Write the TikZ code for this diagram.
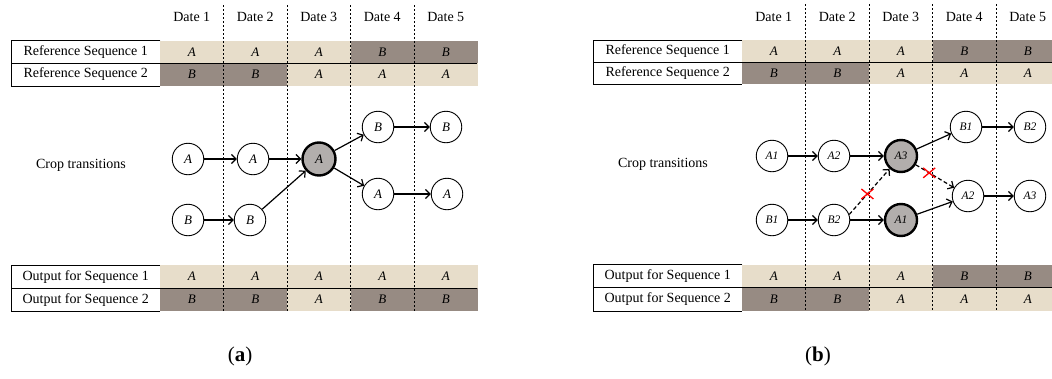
\documentclass[tikz,border=0pt]{standalone}
\usepackage{fontspec}
\setmainfont{Liberation Serif}
\usetikzlibrary{arrows.meta}
\definecolor{lightcell}{HTML}{E7DDCA}
\definecolor{darkcell}{HTML}{978B83}
\definecolor{nodegray}{HTML}{B2AEAC}
\newcommand\seqrow[5]{% #1 prefix, #2 y, #3 label, #4 letters, #5 height
  \node[lbl, minimum height=#5] (#1l) at (11,#2) {#3};
  \draw[line width=0.8pt] (#1l.north east) -- (#1l.north west) -- (#1l.south west) -- (#1l.south east);
  \foreach \l [count=\i] in {#4}
    \node[cell\l, minimum height=#5] (#1c\i) at ({160+63.5*(\i-1)},#2) {\l};
}
\begin{document}
\begin{tikzpicture}[x=1pt,y=-1pt,
  lbl/.style={fill=white, minimum width=149pt, inner sep=0pt, anchor=north west, font=\fontsize{14}{16}\selectfont},
  cellbase/.style={inner sep=0pt, minimum width=63.5pt, anchor=north west, font=\fontsize{13}{15}\selectfont\itshape},
  cellA/.style={cellbase, fill=lightcell},
  cellB/.style={cellbase, fill=darkcell},
  hdr/.style={font=\fontsize{14}{16}\selectfont},
  vsep/.style={dash pattern=on 2pt off 2pt, line width=0.6pt},
  st/.style={circle, draw=black, line width=0.9pt, fill=white, minimum size=31.5pt, inner sep=0pt, font=\fontsize{13}{15}\selectfont\itshape},
  stb/.style={st, font=\fontsize{11.5}{13}\selectfont\itshape},
  gst/.style={st, fill=nodegray, line width=2.4pt, minimum size=33pt},
  gstb/.style={stb, fill=nodegray, line width=2.4pt, minimum size=32pt},
  tr/.style={line width=1.2pt, -{Straight Barb[length=4.5pt,width=9pt]}},
  trd/.style={tr, dash pattern=on 4pt off 2.5pt},
  xmark/.style={red, line width=1.3pt},
  captext/.style={font=\fontsize{21}{24}\selectfont}
]
\useasboundingbox (0,0) rectangle (1052,378);
\clip (0,0) rectangle (1052,378);

% ---------------- Panel (a) tables ----------------
\begin{scope}
  \seqrow{ar1}{40.5}{Reference Sequence 1}{A,A,A,B,B}{22.5pt}
  \seqrow{ar2}{63}{Reference Sequence 2}{B,B,A,A,A}{22.5pt}
  \seqrow{ao1}{265}{Output for Sequence 1}{A,A,A,A,A}{23pt}
  \seqrow{ao2}{288}{Output for Sequence 2}{B,B,A,B,B}{23pt}
  \draw[line width=0.8pt] (ar2l.north west) -- (477,63);
  \draw[line width=0.8pt] (ao2l.north west) -- (477,288);
  \foreach \i in {1,...,5}
    \node[hdr] (ad\i) at ({160+63.5*(\i-0.5)},17) {Date \i};
  \foreach \k in {1,...,4}
    \draw[vsep] ({160+63.5*\k},5) -- ({160+63.5*\k},312);
  \node[hdr] (act) at (81,165) {Crop transitions};
  \node[captext] (acap) at (240,356) {(\textbf{a})};
\end{scope}

% ---------------- Panel (b) tables ----------------
\begin{scope}[xshift=582pt]
  \seqrow{br1}{40}{Reference Sequence 1}{A,A,A,B,B}{22pt}
  \seqrow{br2}{62}{Reference Sequence 2}{B,B,A,A,A}{22pt}
  \seqrow{bo1}{264.5}{Output for Sequence 1}{A,A,A,B,B}{23pt}
  \seqrow{bo2}{287.5}{Output for Sequence 2}{B,B,A,A,A}{23pt}
  \draw[line width=0.8pt] (br2l.north west) -- (478,62);
  \draw[line width=0.8pt] (bo2l.north west) -- (478,287.5);
  \foreach \i in {1,...,5}
    \node[hdr] (bd\i) at ({160+63.5*(\i-0.5)},17) {Date \i};
  \foreach \k in {1,...,4}
    \draw[vsep] ({160+63.5*\k},4) -- ({160+63.5*\k},310);
  \node[hdr] (bct) at (81,164) {Crop transitions};
  \node[captext] (bcap) at (236,356) {(\textbf{b})};
\end{scope}

% ---------------- Panel (a) graph ----------------
\node[st]  (aa1) at (188,159) {A};
\node[st]  (aa2) at (253,159) {A};
\node[gst] (aag) at (319,159) {A};
\node[st]  (ab1) at (188,220) {B};
\node[st]  (ab2) at (250,220) {B};
\node[st]  (ab4) at (378,127) {B};
\node[st]  (ab5) at (446,127) {B};
\node[st]  (aa4) at (378,194) {A};
\node[st]  (aa5) at (447,194) {A};
\draw[tr] (aa1) -- (aa2);
\draw[tr] (aa2) -- (aag);
\draw[tr] (ab1) -- (ab2);
\draw[tr] (ab2) -- (aag);
\draw[tr] (aag) -- (ab4);
\draw[tr] (aag) -- (aa4);
\draw[tr] (ab4) -- (ab5);
\draw[tr] (aa4) -- (aa5);

% ---------------- Panel (b) graph ----------------
\node[stb]  (ba1) at (772,156) {A1};
\node[stb]  (ba2) at (834,156) {A2};
\node[gstb] (ba3g) at (901,156) {A3};
\node[stb]  (bb1) at (772,220) {B1};
\node[stb]  (bb2) at (834,220) {B2};
\node[gstb] (ba1g) at (901,220) {A1};
\node[stb]  (bb1t) at (966,127) {B1};
\node[stb]  (bb2t) at (1030,127) {B2};
\node[stb]  (ba2m) at (968,196) {A2};
\node[stb]  (ba3m) at (1030,196) {A3};
\draw[tr] (ba1) -- (ba2);
\draw[tr] (ba2) -- (ba3g);
\draw[tr] (bb1) -- (bb2);
\draw[tr] (bb2) -- (ba1g);
\draw[trd] (bb2.20) -- coordinate[pos=0.45] (bx1) (ba3g);
\draw[tr] (ba3g) -- (bb1t);
\draw[trd] (ba3g) -- coordinate[pos=0.35] (bx2) (ba2m);
\draw[tr] (ba1g) -- (ba2m);
\draw[tr] (bb1t) -- (bb2t);
\draw[tr] (ba2m) -- (ba3m);
\draw[xmark] ([shift={(-6,-5)}]bx1) -- ([shift={(6,5)}]bx1)
             ([shift={(-6,5)}]bx1) -- ([shift={(6,-5)}]bx1);
\draw[xmark] ([shift={(-6,-5)}]bx2) -- ([shift={(6,5)}]bx2)
             ([shift={(-6,5)}]bx2) -- ([shift={(6,-5)}]bx2);
\end{tikzpicture}
\end{document}
